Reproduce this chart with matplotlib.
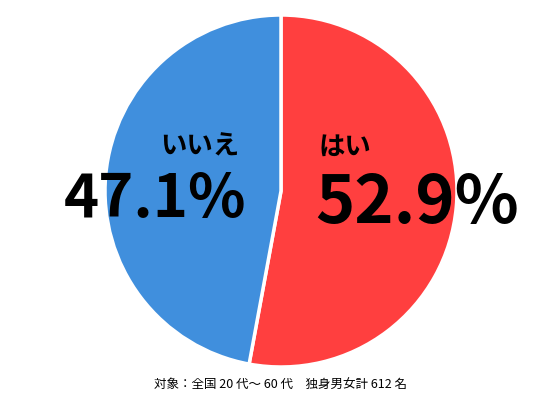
import matplotlib
matplotlib.use("Agg")
import matplotlib.pyplot as plt

labels = ["はい", "いいえ"]
values = [52.9, 47.1]
colors = ["#FF3F3F", "#408FDD"]
note = "対象：全国 20 代〜 60 代　独身男女計 612 名"

plt.rcParams['font.family'] = ['Noto Sans CJK JP', 'DejaVu Sans']
fig = plt.figure(figsize=(5.57, 4.12), dpi=100)
ax = fig.add_axes([281/557 - 176/557, 1 - 191/412 - 176/412, 352/557, 352/412])
ax.pie(values, colors=colors, startangle=90, counterclock=False,
       wedgeprops=dict(edgecolor="white", linewidth=2.5))
ax.set_xlim(-1, 1); ax.set_ylim(-1, 1)
ax.set_aspect('auto')
ax.axis('off')

fig.text(318/557, 1-147/412, labels[0], fontsize=19, fontweight='bold', ha='left', va='center')
fig.text(417/557, 1-203/412, f"{values[0]}%", fontsize=48, fontweight='bold', ha='center', va='center')
fig.text(200/557, 1-147/412, labels[1], fontsize=19, fontweight='bold', ha='center', va='center')
fig.text(155/557, 1-200/412, f"{values[1]}%", fontsize=43, fontweight='bold', ha='center', va='center')
fig.text(281/557, 1-385/412, note, fontsize=9, ha='center', va='center')
fig.savefig("out.png", dpi=100)
